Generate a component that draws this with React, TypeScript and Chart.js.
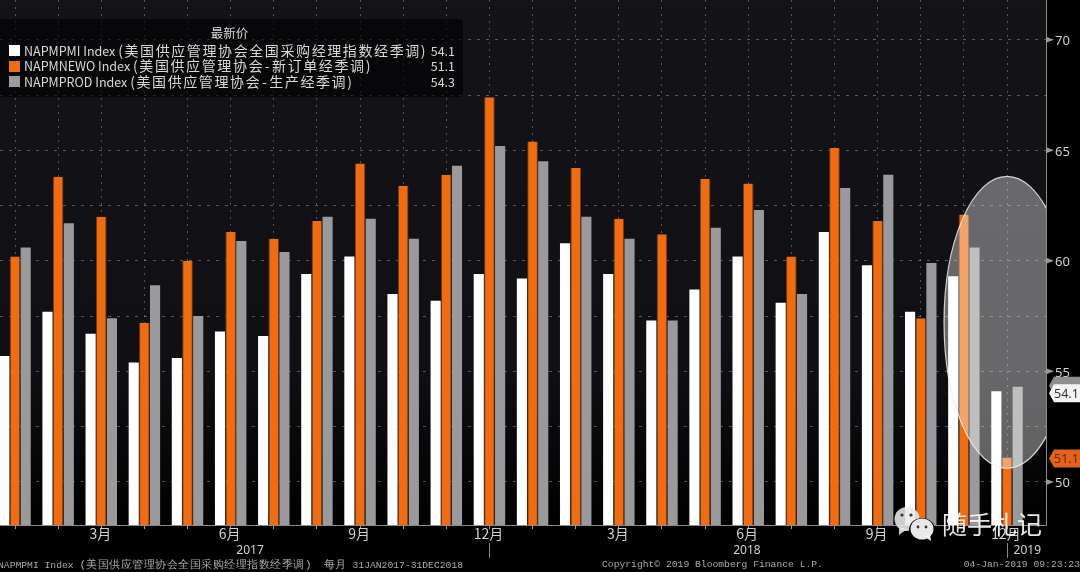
import { useEffect, useRef } from "react";
import { Chart, registerables, type Plugin } from "chart.js";

Chart.register(...registerables);

const monthTicks = [
  "", "", "3月", "", "", "6月", "", "", "9月", "", "", "12月",
  "", "", "3月", "", "", "6月", "", "", "9月", "", "", "12月",
];
const pmi = [
  55.7, 57.7, 56.7, 55.4, 55.6, 56.8, 56.6, 59.4, 60.2, 58.5, 58.2, 59.4,
  59.2, 60.8, 59.4, 57.3, 58.7, 60.2, 58.1, 61.3, 59.8, 57.7, 59.3, 54.1,
];
const newOrders = [
  60.2, 63.8, 62.0, 57.2, 60.0, 61.3, 61.0, 61.8, 64.4, 63.4, 63.9, 67.4,
  65.4, 64.2, 61.9, 61.2, 63.7, 63.5, 60.2, 65.1, 61.8, 57.4, 62.1, 51.1,
];
const production = [
  60.6, 61.7, 57.4, 58.9, 57.5, 60.9, 60.4, 62.0, 61.9, 61.0, 64.3, 65.2,
  64.5, 62.0, 61.0, 57.3, 61.5, 62.3, 58.5, 63.3, 63.9, 59.9, 60.6, 54.3,
];
const legendRows = [
  { color: "#ffffff", code: "NAPMPMI Index", desc: "(美国供应管理协会全国采购经理指数经季调)", last: "54.1" },
  { color: "#ee6c14", code: "NAPMNEWO Index", desc: "(美国供应管理协会 - 新订单经季调)", last: "51.1" },
  { color: "#9a9a9c", code: "NAPMPROD Index", desc: "(美国供应管理协会 - 生产经季调)", last: "54.3" },
];
const yearLabels = [
  { year: "2017", at: 5.45 },
  { year: "2018", at: 16.97 },
  { year: "2019", at: 23.47 },
];
const yearSeparators = [11, 23];

const toPoints = (values: number[]) => values.map((y, x) => ({ x, y }));

function tag(ctx: CanvasRenderingContext2D, left: number, y: number, fill: string, text: string, color: string) {
  ctx.fillStyle = fill;
  ctx.beginPath();
  ctx.moveTo(left, y);
  ctx.lineTo(left + 5, y - 9);
  ctx.lineTo(1080, y - 9);
  ctx.lineTo(1080, y + 9);
  ctx.lineTo(left + 5, y + 9);
  ctx.closePath();
  ctx.fill();
  ctx.fillStyle = color;
  ctx.font = "12.5px 'Noto Sans'";
  ctx.textAlign = "left";
  ctx.textBaseline = "middle";
  ctx.fillText(text, left + 5, y + 1);
}

const backgroundPlugin: Plugin = {
  id: "plotBackground",
  beforeDraw(chart) {
    const { ctx, chartArea: a } = chart;
    ctx.save();
    const g = ctx.createLinearGradient(0, a.top, 0, a.bottom);
    g.addColorStop(0, "#141318");
    g.addColorStop(0.7, "#101014");
    g.addColorStop(1, "#000000");
    ctx.fillStyle = g;
    ctx.fillRect(a.left, a.top, a.right - a.left, a.bottom - a.top);
    ctx.restore();
  },
};

const overlayPlugin: Plugin = {
  id: "overlay",
  afterDatasetsDraw(chart) {
    const { ctx, chartArea: a, scales } = chart;
    const x = scales.x;
    const y = scales.y;

    // highlight ellipse over the latest months, clipped by the axis
    const cx = x.getPixelForValue(23);
    const cy = y.getPixelForValue(57.22);
    const rx = x.getPixelForValue(24.46) - cx;
    const ry = y.getPixelForValue(50.62) - cy;
    ctx.save();
    ctx.beginPath();
    ctx.rect(a.left, a.top, a.right - a.left, a.bottom - a.top);
    ctx.clip();
    ctx.beginPath();
    ctx.ellipse(cx, cy, rx, ry, 0, 0, Math.PI * 2);
    ctx.fillStyle = "rgba(255,255,255,0.37)";
    ctx.fill();
    ctx.strokeStyle = "rgba(240,240,240,0.85)";
    ctx.lineWidth = 1.2;
    ctx.stroke();
    ctx.restore();
  },
  afterDraw(chart) {
    const { ctx, chartArea: a, scales } = chart;
    const x = scales.x;
    const y = scales.y;
    ctx.save();

    // little arrows next to the labelled y ticks
    ctx.fillStyle = "#9a9a9a";
    for (const t of y.ticks) {
      if (t.value % 5 !== 0) continue;
      const py = y.getPixelForValue(t.value);
      ctx.beginPath();
      ctx.moveTo(a.right, py - 3);
      ctx.lineTo(a.right + 8, py);
      ctx.lineTo(a.right, py + 3);
      ctx.closePath();
      ctx.fill();
    }

    // last value tags
    const n = pmi.length - 1;
    tag(ctx, a.right + 3, y.getPixelForValue(production[n]) - 1, "#8f8f8f", "", "#333");
    tag(ctx, a.right + 3, y.getPixelForValue(pmi[n]) + 2, "#f4f4f4", String(pmi[n]), "#333333");
    tag(ctx, a.right + 3, y.getPixelForValue(newOrders[n]) + 1, "#e2641c", String(newOrders[n]), "#7c2306");

    // year row
    ctx.fillStyle = "#d0d0d0";
    ctx.font = "12px 'Noto Sans'";
    ctx.textAlign = "center";
    ctx.textBaseline = "middle";
    for (const l of yearLabels) ctx.fillText(l.year, x.getPixelForValue(l.at), 551);
    ctx.strokeStyle = "#8a8a8a";
    ctx.lineWidth = 1;
    for (const s of yearSeparators) {
      const px = Math.round(x.getPixelForValue(s)) + 0.5;
      ctx.beginPath();
      ctx.moveTo(px, 543);
      ctx.lineTo(px, 558);
      ctx.stroke();
    }

    // watermark
    ctx.fillStyle = "rgba(235,235,235,0.88)";
    ctx.beginPath();
    ctx.ellipse(907, 519, 12.5, 12, 0, 0, Math.PI * 2);
    ctx.fill();
    ctx.beginPath();
    ctx.moveTo(899, 527);
    ctx.lineTo(899, 535);
    ctx.lineTo(907, 529);
    ctx.fill();
    ctx.fillStyle = "#000";
    ctx.beginPath();
    ctx.ellipse(922, 530, 13, 12, 0, 0, Math.PI * 2);
    ctx.fill();
    ctx.fillStyle = "rgba(245,245,245,0.95)";
    ctx.beginPath();
    ctx.ellipse(922, 529, 11.5, 10.5, 0, 0, Math.PI * 2);
    ctx.fill();
    ctx.beginPath();
    ctx.moveTo(925, 537);
    ctx.lineTo(931, 541);
    ctx.lineTo(930, 534);
    ctx.fill();
    ctx.fillStyle = "#333";
    for (const [ex, ey, r] of [[902, 515, 1.6], [911, 515, 1.6], [918, 527, 1.4], [926, 527, 1.4]]) {
      ctx.beginPath();
      ctx.arc(ex, ey, r, 0, Math.PI * 2);
      ctx.fill();
    }
    ctx.fillStyle = "rgba(255,255,255,0.9)";
    ctx.font = "25px 'Noto Sans CJK SC'";
    ctx.textAlign = "left";
    ctx.textBaseline = "middle";
    ctx.fillText("随手札记", 942, 524);
    ctx.restore();
  },
};

const footerStyle = {
  position: "absolute",
  top: 559,
  color: "#a8a8a8",
  fontFamily: "'Liberation Mono'",
  fontSize: 9.7,
  lineHeight: "12px",
  whiteSpace: "pre",
} as const;

const cjkFooter = { fontSize: 11, letterSpacing: 0.5 };

export default function App() {
  const canvasRef = useRef<HTMLCanvasElement>(null);

  useEffect(() => {
    if (!canvasRef.current) return;
    const chart = new Chart(canvasRef.current, {
      type: "bar",
      data: {
        datasets: [
          { label: "NAPMPMI", data: toPoints(pmi), backgroundColor: "#ffffff" },
          {
            label: "NAPMNEWO",
            data: toPoints(newOrders),
            backgroundColor: "#ee6c14",
            borderColor: "#7a3510",
            borderWidth: { left: 1, right: 1, top: 0, bottom: 0 },
            barPercentage: 1,
          },
          { label: "NAPMPROD", data: toPoints(production), backgroundColor: "#9a9a9c" },
        ],
      } as any,
      plugins: [backgroundPlugin, overlayPlugin],
      options: {
        responsive: false,
        animation: false,
        devicePixelRatio: 1,
        datasets: { bar: { categoryPercentage: 0.742, barPercentage: 0.95 } },
        plugins: { legend: { display: false }, tooltip: { enabled: false } },
        scales: {
          x: {
            type: "linear",
            offset: false,
            min: -0.348,
            max: 23.904,
            afterFit: (s: any) => {
              s.height = 47;
              s.paddingLeft = 0;
              s.paddingRight = 0;
            },
            grid: {
              offset: false,
              color: "rgba(255,255,255,0.28)",
              tickColor: "#a89f80",
              tickLength: 4,
              tickBorderDash: [],
            },
            border: { color: "#8c8c8c", dash: [2, 5] },
            ticks: {
              stepSize: 1,
              autoSkip: false,
              includeBounds: false,
              maxRotation: 0,
              padding: -4,
              labelOffset: -1,
              color: "#d0d0d0",
              font: { size: 14, family: "'Noto Sans CJK SC'" },
              callback: (v: any) => monthTicks[v] ?? "",
            },
          },
          y: {
            position: "right",
            min: 48.05,
            max: 71.8,
            afterFit: (s: any) => {
              s.width = 34;
              s.paddingTop = 0;
              s.paddingBottom = 0;
            },
            grid: {
              color: "rgba(255,255,255,0.3)",
              drawTicks: false,
              tickLength: 0,
            },
            border: { color: "#8c8c8c", dash: [3, 6] },
            ticks: {
              stepSize: 2.5,
              autoSkip: false,
              includeBounds: false,
              padding: 9,
              labelOffset: 1.5,
              color: "#d0d0d0",
              font: { size: 13, family: "'Noto Sans'" },
              callback: (v: any) => (Number(v) % 5 === 0 ? String(v) : ""),
            },
          },
        },
      },
    } as any);
    return () => chart.destroy();
  }, []);

  return (
    <div style={{ position: "fixed", left: 0, top: 0, width: 1080, height: 572, background: "#000", overflow: "hidden" }}>
      <canvas ref={canvasRef} width={1080} height={572} style={{ display: "block" }} />
      <div
        style={{
          position: "absolute",
          left: -4,
          top: 19,
          width: 467,
          height: 78,
          borderRadius: 4,
          background: "rgba(0,0,0,0.62)",
          color: "#d8d8d8",
          fontFamily: "'Noto Sans CJK SC'",
          fontSize: 12.5,
        }}
      >
        <div style={{ position: "absolute", left: 0, width: "100%", top: 6, lineHeight: "16px", textAlign: "center" }}>最新价</div>
        {legendRows.map((r, i) => (
          <div key={r.code} style={{ position: "absolute", left: 0, top: 24 + i * 15.5, width: "100%", height: 16, lineHeight: "16px", whiteSpace: "nowrap" }}>
            <span style={{ position: "absolute", left: 13, top: 2, width: 11, height: 11, background: r.color }} />
            <span style={{ position: "absolute", left: 28, top: -1.5 }}>
              {r.code} <span style={{ fontSize: 14, letterSpacing: 1.6, wordSpacing: -4 }}>{r.desc}</span>
            </span>
            <span style={{ position: "absolute", right: 8, top: -0.5 }}>{r.last}</span>
          </div>
        ))}
      </div>
      <div style={{ ...footerStyle, left: -2 }}>
        {"NAPMPMI Index "}
        <span style={cjkFooter}>(美国供应管理协会全国采购经理指数经季调)</span>
        {"  "}
        <span style={cjkFooter}>每月</span>
        {" 31JAN2017-31DEC2018"}
      </div>
      <div style={{ ...footerStyle, left: 602 }}>{"Copyright© 2019 Bloomberg Finance L.P."}</div>
      <div style={{ ...footerStyle, right: 0 }}>{"04-Jan-2019 09:23:23"}</div>
    </div>
  );
}
